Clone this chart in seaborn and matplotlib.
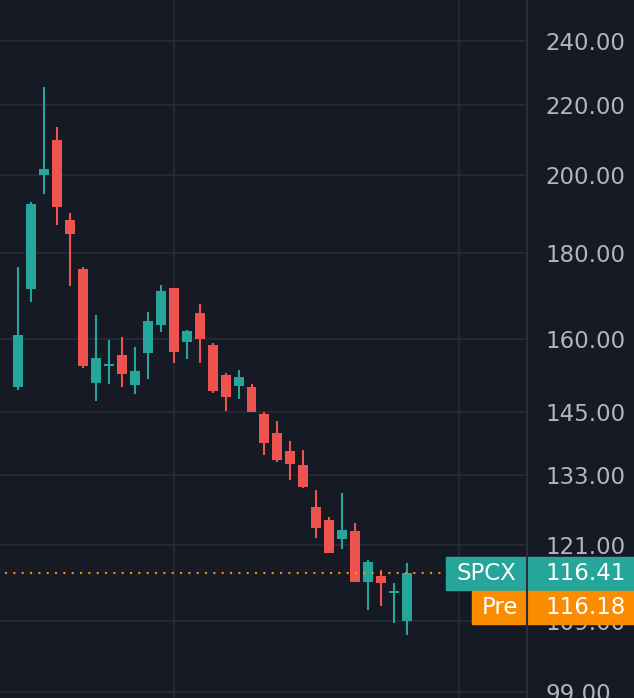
import pandas as pd
import matplotlib
matplotlib.use('Agg')
import matplotlib.pyplot as plt
import matplotlib.ticker as mticker
from matplotlib.patches import Rectangle
from matplotlib.lines import Line2D
import seaborn as sns

# daily candles, oldest first
opens  = [149.9, 171.3, 200.1, 209.9, 188.2, 176.0, 150.8, 154.3, 156.6, 150.4,
          157.0, 163.1, 171.6, 159.4, 165.8, 158.7, 152.4, 150.2, 150.0, 144.5,
          140.9, 137.5, 134.9, 127.4, 125.1, 121.9, 123.3, 115.0, 116.0, 113.35,
          109.1]
highs  = [176.5, 192.8, 225.5, 213.6, 190.0, 176.5, 165.4, 159.8, 160.5, 158.3,
          166.1, 172.3, 171.6, 162.0, 167.9, 159.2, 152.8, 153.4, 150.6, 144.9,
          143.2, 139.3, 137.6, 130.4, 125.7, 129.8, 124.6, 118.5, 116.9, 114.8,
          118.0]
lows   = [149.4, 168.3, 195.0, 186.9, 172.0, 153.9, 147.1, 150.6, 150.0, 148.6,
          151.6, 161.6, 154.9, 155.7, 154.9, 148.8, 145.1, 147.5, 144.9, 136.7,
          135.4, 132.2, 130.7, 122.1, 119.6, 120.3, 115.0, 110.7, 111.3, 108.7,
          107.0]
closes = [160.9, 192.3, 201.7, 191.5, 184.6, 154.3, 156.0, 154.7, 152.6, 153.2,
          164.0, 170.9, 157.2, 161.8, 160.1, 149.2, 148.0, 152.0, 144.9, 139.0,
          135.8, 135.0, 130.9, 123.8, 119.6, 123.4, 115.0, 118.2, 114.8, 113.65,
          116.41]

price_ticks = [99, 109, 121, 133, 145, 160, 180, 200, 220, 240]
last_price = 116.41
pre_price = 116.18
symbol = 'SPCX'
pre_label = 'Pre'

df = pd.DataFrame({'open': opens, 'high': highs, 'low': lows, 'close': closes})
df['idx'] = range(len(df))
df['up'] = df['close'] >= df['open']

bg = '#161a25'
grid_c = '#242834'
up_c = '#26a69a'
down_c = '#ef5350'
orange = '#fb8c00'
text_c = '#b2b5be'

sns.set_theme(style='dark', rc={'axes.facecolor': bg, 'figure.facecolor': bg,
                                'savefig.facecolor': bg})
plt.rcParams['font.family'] = ['DejaVu Sans']

W, H = 634, 698
fig = plt.figure(figsize=(W / 100, H / 100), dpi=100)
ax = fig.add_axes([0, 0, 527 / W, 1])

colors = df['up'].map({True: up_c, False: down_c})
ax.vlines(df['idx'], df['low'], df['high'], colors=colors, linewidth=1.5, zorder=3)
body_lo = df[['open', 'close']].min(axis=1)
body_hi = df[['open', 'close']].max(axis=1)
ax.bar(df['idx'], body_hi - body_lo, bottom=body_lo, width=0.77, color=colors,
       linewidth=0, zorder=4)

ax.hlines(last_price, -1.0, 33, colors=orange, linewidth=1.5,
          linestyles=(0, (1, 3)), zorder=5)

ax.set_yscale('log')
ax.set_ylim(98.2, 253.9)
ax.set_xlim(-1.39, 39.24)
ax.yaxis.set_major_locator(mticker.FixedLocator(price_ticks))
ax.yaxis.set_major_formatter(mticker.FormatStrFormatter('%.2f'))
ax.yaxis.set_minor_locator(mticker.NullLocator())
ax.yaxis.set_minor_formatter(mticker.NullFormatter())
ax.yaxis.tick_right()
ax.tick_params(axis='y', length=0, pad=13, labelsize=16.5, labelcolor=text_c)
ax.set_xticks([12, 34])
ax.tick_params(axis='x', length=0, labelbottom=False)
ax.grid(True, color=grid_c, linewidth=1.5)
for s in ax.spines.values():
    s.set_visible(False)


def fx(x):
    return x / W


def fy(y):
    return 1 - y / H


# price tags on the right
for (x0, y0, y1, c, name, val, name_x) in [
        (446, 557, 590, up_c, symbol, last_price, 486.5),
        (472, 591, 624, orange, pre_label, pre_price, 499.5)]:
    fig.add_artist(Rectangle((fx(x0), fy(y1)), fx(634 - x0), (y1 - y0) / H,
                             transform=fig.transFigure, color=c, zorder=5))
    yc = fy((y0 + y1) / 2)
    fig.text(fx(name_x), yc, name, ha='center', va='center', color='white',
             fontsize=16.5, zorder=6)
    fig.text(fx(545), yc, f'{val:.2f}', ha='left', va='center', color='white',
             fontsize=16.5, zorder=6)

fig.add_artist(Line2D([fx(527), fx(527)], [0, 1], transform=fig.transFigure,
                      color='#2a2e39', linewidth=1.5, zorder=7))

fig.savefig('out.png', dpi=100)
